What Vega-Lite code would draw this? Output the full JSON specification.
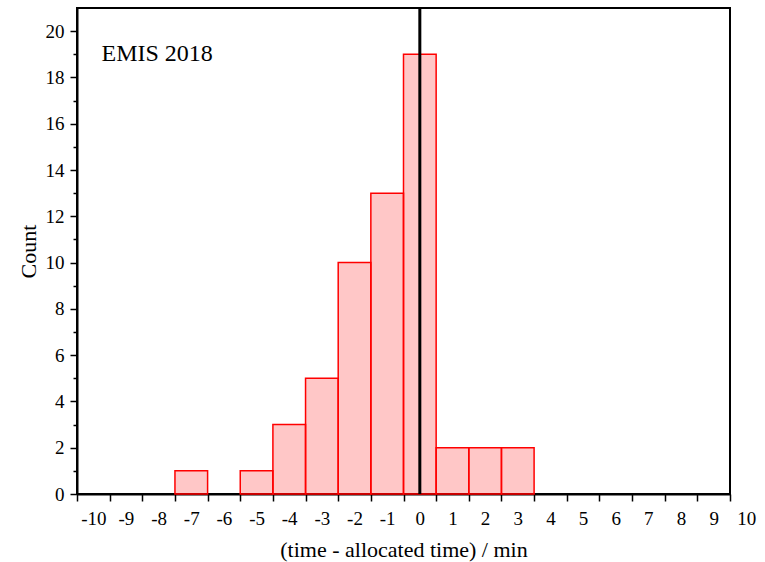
{
  "$schema": "https://vega.github.io/schema/vega-lite/v6.json",
  "width": 653,
  "height": 486,
  "autosize": "none",
  "padding": {"left": 77, "top": 8, "right": 35, "bottom": 68},
  "background": "white",
  "config": {
    "font": "Liberation Serif",
    "view": {"stroke": "black", "strokeWidth": 2},
    "axis": {
      "domainColor": "black",
      "domainWidth": 2,
      "tickColor": "black",
      "tickWidth": 1.5,
      "labelColor": "black",
      "titleColor": "black",
      "labelFont": "Liberation Serif",
      "titleFont": "Liberation Serif",
      "labelFontSize": 19,
      "titleFontSize": 22,
      "titleFontWeight": "normal",
      "labelOverlap": false,
      "grid": false
    }
  },
  "layer": [
    {
      "data": {
        "values": [
          {"lo": -7.5, "hi": -6.5, "count": 1},
          {"lo": -5.5, "hi": -4.5, "count": 1},
          {"lo": -4.5, "hi": -3.5, "count": 3},
          {"lo": -3.5, "hi": -2.5, "count": 5},
          {"lo": -2.5, "hi": -1.5, "count": 10},
          {"lo": -1.5, "hi": -0.5, "count": 13},
          {"lo": -0.5, "hi": 0.5, "count": 19},
          {"lo": 0.5, "hi": 1.5, "count": 2},
          {"lo": 1.5, "hi": 2.5, "count": 2},
          {"lo": 2.5, "hi": 3.5, "count": 2}
        ]
      },
      "mark": {"type": "bar", "stroke": "#ff0000", "strokeWidth": 1.5, "fill": "#ff0000", "fillOpacity": 0.22},
      "encoding": {
        "x": {
          "field": "lo",
          "type": "quantitative",
          "scale": {"domain": [-10.5, 9.5], "nice": false, "zero": false},
          "axis": {
            "values": [-10.5, -9.5, -8.5, -7.5, -6.5, -5.5, -4.5, -3.5, -2.5, -1.5, -0.5, 0.5, 1.5, 2.5, 3.5, 4.5, 5.5, 6.5, 7.5, 8.5, 9.5],
            "labelExpr": "'' + (datum.value + 0.5)",
            "labelOffset": 16.3,
            "labelFlush": false,
            "labelOverlap": false,
            "labelBound": false,
            "labelSeparation": 0,
            "labelBaseline": "top",
            "labelPadding": 8,
            "tickSize": 7,
            "title": "(time - allocated time) / min",
            "titlePadding": 11
          }
        },
        "x2": {"field": "hi"},
        "y": {
          "field": "count",
          "type": "quantitative",
          "scale": {"domain": [0, 21], "nice": false},
          "axis": {
            "values": [0, 1, 2, 3, 4, 5, 6, 7, 8, 9, 10, 11, 12, 13, 14, 15, 16, 17, 18, 19, 20],
            "labelExpr": "datum.value % 2 === 0 ? '' + datum.value : ''",
            "labelOverlap": false,
            "labelPadding": 6,
            "tickSize": {"condition": {"test": "datum.value % 2 === 0", "value": 7}, "value": 4},
            "title": "Count",
            "titlePadding": 5
          }
        },
        "y2": {"datum": 0}
      }
    },
    {
      "data": {"values": [{"zero": 0}]},
      "mark": {"type": "rule", "strokeWidth": 3, "color": "black"},
      "encoding": {
        "x": {
          "field": "zero",
          "type": "quantitative",
          "axis": {
            "values": [-10.5, -9.5, -8.5, -7.5, -6.5, -5.5, -4.5, -3.5, -2.5, -1.5, -0.5, 0.5, 1.5, 2.5, 3.5, 4.5, 5.5, 6.5, 7.5, 8.5, 9.5],
            "labelExpr": "'' + (datum.value + 0.5)",
            "labelOffset": 16.3,
            "labelFlush": false,
            "labelOverlap": false,
            "labelBound": false,
            "labelSeparation": 0,
            "labelBaseline": "top",
            "labelPadding": 8,
            "tickSize": 7,
            "title": "(time - allocated time) / min",
            "titlePadding": 11
          }
        }
      }
    },
    {
      "data": {"values": [{"label": "EMIS 2018", "px": -9.75, "py": 18.7}]},
      "mark": {"type": "text", "align": "left", "baseline": "alphabetic", "fontSize": 24, "font": "Liberation Serif", "color": "black"},
      "encoding": {
        "x": {
          "field": "px",
          "type": "quantitative",
          "axis": {
            "values": [-10.5, -9.5, -8.5, -7.5, -6.5, -5.5, -4.5, -3.5, -2.5, -1.5, -0.5, 0.5, 1.5, 2.5, 3.5, 4.5, 5.5, 6.5, 7.5, 8.5, 9.5],
            "labelExpr": "'' + (datum.value + 0.5)",
            "labelOffset": 16.3,
            "labelFlush": false,
            "labelOverlap": false,
            "labelBound": false,
            "labelSeparation": 0,
            "labelBaseline": "top",
            "labelPadding": 8,
            "tickSize": 7,
            "title": "(time - allocated time) / min",
            "titlePadding": 11
          }
        },
        "y": {
          "field": "py",
          "type": "quantitative",
          "axis": {
            "values": [0, 1, 2, 3, 4, 5, 6, 7, 8, 9, 10, 11, 12, 13, 14, 15, 16, 17, 18, 19, 20],
            "labelExpr": "datum.value % 2 === 0 ? '' + datum.value : ''",
            "labelOverlap": false,
            "labelPadding": 6,
            "tickSize": {"condition": {"test": "datum.value % 2 === 0", "value": 7}, "value": 4},
            "title": "Count",
            "titlePadding": 5
          }
        },
        "text": {"field": "label"}
      }
    }
  ]
}
